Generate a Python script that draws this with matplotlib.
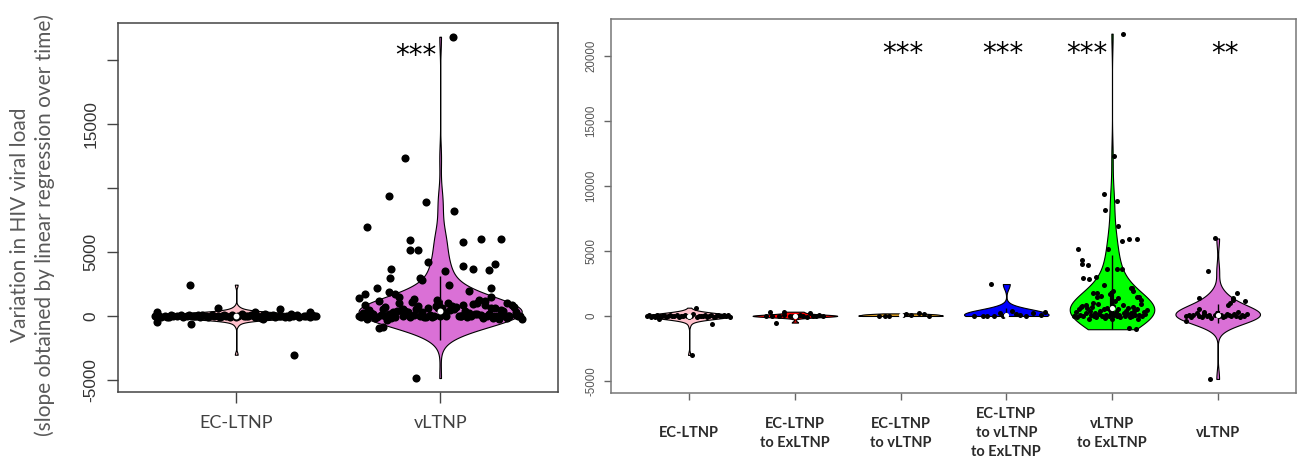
import numpy as np
import matplotlib.pyplot as plt

# ---- left panel: EC-LTNP vs vLTNP ----
left_cats = ["EC-LTNP", "vLTNP"]

ec_l_y = [2450, 650, -650, -470, -3020, 550, 340, 300, 330, -230,
          0, 40, -60, 20, -100, 80, 10, -30, 60, -80,
          0, 120, -20, 30, -50, 90, 0, -110, 50, -10,
          20, -70, 100, 0, -40, 70, -90, 10, 140, -20,
          0, 60, -60, 30, -120, 80, 0, -30, 110, -50,
          20, 0, -80, 40, 150, -10, 70, -100, 0, 30,
          -40, 90, 10, -60, 50, 0, -20, 130, -90, 20]
ec_l_jx = [-0.225, -0.09, -0.22, -0.39, 0.285, 0.215, 0.36, 0.09, -0.39, 0.13,
           -0.40, -0.38, -0.37, -0.35, -0.34, -0.32, -0.31, -0.29, -0.27, -0.26,
           -0.24, -0.23, -0.21, -0.20, -0.18, -0.17, -0.15, -0.14, -0.12, -0.11,
           -0.09, -0.08, -0.06, -0.05, -0.03, -0.02, 0.00, 0.01, 0.03, 0.04,
           0.06, 0.07, 0.09, 0.10, 0.12, 0.13, 0.15, 0.16, 0.18, 0.19,
           0.21, 0.22, 0.24, 0.25, 0.27, 0.28, 0.30, 0.31, 0.33, 0.34,
           0.36, 0.37, 0.39, -0.33, -0.19, -0.07, 0.05, 0.14, 0.26, 0.38]

vl_out_y = [21800, 12340, 9380, 8900, 8200, 6950, 5940, 5780, 6000, 6000,
            5160, 5160, 4220, 3670, 2970, 3900, 3670, 3590, 4060, 3520,
            2970, 2810, 2420, 2190, 1950, 2190, 1720, 1410, 1880, 1720,
            1480, 1480, 1330, 1250, 1020, -940, -860, -4840]
vl_out_jx = [0.065, -0.17, -0.25, -0.07, 0.07, -0.36, -0.15, 0.11, 0.20, 0.30,
             -0.15, -0.11, -0.06, -0.24, -0.245, 0.11, 0.16, 0.24, 0.27, 0.025,
             -0.10, -0.09, 0.045, 0.25, 0.14, -0.31, -0.37, -0.40, -0.25, -0.22,
             -0.20, 0.25, -0.13, -0.015, 0.33, -0.30, -0.28, -0.12]
vl_band_y = [0, 200, -100, 600, 50, 900, -50, 300, 0, 1100,
             150, -200, 700, 0, 400, -30, 1200, 100, 500, 0,
             -150, 800, 250, 0, 650, -80, 350, 1000, 0, 120,
             -250, 550, 0, 450, 80, -120, 750, 0, 300, 950,
             -60, 180, 600, 0, -300, 850, 220, 0, 500, 60,
             -180, 1150, 0, 380, 700, -40, 140, 900, 0, 280,
             -90, 520, 0, 420, 1050, -140, 30, 650, 0, 320,
             -220, 780, 0, 160, 580, -20, 450, 1250, 0, 90,
             -110, 620, 0, 260, 880, -70, 400, 720, 0, 190,
             -160, 540, 0, 340, 980]
vl_band_jx = [-0.40, 0.12, -0.31, 0.27, -0.05, 0.35, -0.22, 0.02, 0.39, -0.14,
              0.18, -0.36, 0.08, -0.27, 0.31, -0.10, 0.22, -0.38, 0.05, -0.18,
              0.33, -0.02, 0.14, -0.33, 0.25, -0.08, 0.37, -0.20, 0.10, -0.29,
              0.29, -0.12, 0.00, -0.35, 0.20, -0.24, 0.06, 0.34, -0.16, 0.16,
              -0.39, 0.24, -0.06, 0.38, -0.26, 0.11, -0.34, 0.03, 0.30, -0.13,
              0.21, -0.30, 0.09, -0.21, 0.36, -0.04, 0.17, -0.37, 0.26, -0.09,
              0.13, -0.28, 0.32, -0.17, 0.04, -0.32, 0.23, -0.01, 0.28, -0.23,
              0.40, -0.11, 0.15, -0.25, 0.07, 0.34, -0.19, 0.19, -0.03, 0.37,
              -0.15, 0.01, 0.29, -0.38, 0.22, -0.07, 0.12, -0.27, 0.33, -0.33,
              0.26, -0.18, 0.10, -0.36, 0.18]

# ---- right panel: six transition groups ----
right_cats = ["EC-LTNP", "EC-LTNP\nto ExLTNP", "EC-LTNP\nto vLTNP",
              "EC-LTNP\nto vLTNP\nto ExLTNP", "vLTNP\nto ExLTNP", "vLTNP"]

g1_y = [640, -640, -3000, -230, 0, 50, -40, 20, -80, 100,
        0, -20, 60, -60, 10, 80, -30, 0, 40, -100,
        20, -10, 90, 0, -50, 30, 120, -70, 10, 0,
        -20, 60, -40, 0, 70, -90, 20, 40, -10, 0,
        50, -30, 100, -60]
g1_jx = [0.06, 0.22, 0.03, -0.29, -0.40, -0.38, -0.36, -0.34, -0.32, -0.30,
         -0.28, -0.26, -0.24, -0.22, -0.20, -0.18, -0.16, -0.14, -0.12, -0.10,
         -0.08, -0.06, -0.04, -0.02, 0.00, 0.02, 0.04, 0.07, 0.09, 0.11,
         0.13, 0.15, 0.17, 0.19, 0.21, 0.23, 0.25, 0.27, 0.29, 0.31,
         0.33, 0.35, 0.37, 0.39]

g2_y = [330, 330, -510, 230, 0, 20, -30, 50, 0, -20, 10, 60, 0, -40, 30, 0, 80, -10]
g2_jx = [-0.24, -0.105, -0.18, 0.14, -0.27, -0.22, -0.15, -0.10, -0.05, -0.02,
         0.02, 0.05, 0.08, 0.11, 0.17, 0.20, 0.23, 0.27]

g3_y = [0, 10, 0, 100, 150, 80, 200, 120, 30]
g3_jx = [-0.20, -0.15, -0.11, 0.02, 0.05, 0.10, 0.17, 0.22, 0.27]

g4_y = [2460, 0, 20, 0, 250, 0, 400, 100, 0, 200, 50, 300, 10, 150]
g4_jx = [-0.14, -0.31, -0.22, -0.12, -0.06, -0.03, 0.05, 0.13, 0.19, 0.25,
         0.33, 0.37, -0.18, 0.09]

g5_y = [21740, 12300, 9380, 8840, 8150, 6920, 5740, 5950, 5920, 5180,
        5130, 4310, 4000, 3900, 2950, 2850, 3000, 3640, 3610, 3590,
        2360, 2150, 1790, 1790, 1540, 1440, 1360, 1440, -900, -1020,
        2130, 1490, 720, 850, 1000, 1900, 1250, 1700, 1950, 1150,
        0, 300, -100, 500, 100, 800, 0, 200, 600, -200,
        400, 50, 700, 0, 250, -50, 900, 150, 350, 0,
        550, -150, 100, 650, 0, 450, 200, -250, 750, 50,
        300, 0, 500, 100, -100, 850, 250, 0, 400, 150,
        600, -50, 200, 0, 700, 350, 100, 500, -200, 50,
        950, 0, 300, 150, 450]
g5_jx = [0.10, 0.02, -0.075, 0.045, -0.065, 0.057, 0.095, 0.16, 0.24, -0.32,
         -0.04, -0.285, -0.288, -0.23, -0.27, -0.215, -0.15, -0.045, 0.047, 0.09,
         -0.08, 0.19, -0.18, -0.14, -0.10, -0.145, 0.06, 0.26, 0.16, 0.23,
         0.18, 0.24, -0.295, -0.25, -0.18, 0.20, 0.27, -0.02, 0.005, 0.03,
         -0.36, -0.34, -0.33, -0.31, -0.30, -0.28, -0.27, -0.25, -0.24, -0.22,
         -0.21, -0.20, -0.19, -0.17, -0.16, -0.15, -0.13, -0.12, -0.11, -0.09,
         -0.08, -0.07, -0.06, -0.05, -0.03, -0.02, -0.01, 0.00, 0.01, 0.02,
         0.04, 0.05, 0.06, 0.07, 0.08, 0.10, 0.11, 0.12, 0.13, 0.14,
         0.15, 0.17, 0.18, 0.19, 0.20, 0.21, 0.22, 0.24, 0.25, 0.26,
         0.27, 0.28, 0.30, 0.31, 0.33]

g6_y = [5970, 3480, 1410, 1750, 1410, 1130, 1020, 850, 510, 330,
        -390, -4850, 1250,
        0, 100, -100, 50, 200, 0, -50, 150, 0, 100,
        -150, 50, 250, 0, 100, -80, 0, 180, 50, -20,
        120, 0, 300, -60, 80, 0, 150]
g6_jx = [-0.027, -0.096, -0.18, 0.185, 0.146, 0.26, 0.118, 0.10, -0.18, -0.125,
         -0.30, -0.074, 0.14,
         -0.30, -0.27, -0.25, -0.23, -0.20, -0.18, -0.15, -0.13, -0.10, -0.08,
         -0.06, -0.03, -0.01, 0.01, 0.03, 0.05, 0.07, 0.09, 0.11, 0.13,
         0.15, 0.17, 0.19, 0.21, 0.23, 0.25, 0.28]

left_colors = ["pink", "orchid"]
right_colors = ["pink", "red", "#e0a020", "blue", "#00ff00", "orchid"]

yticks = [-5000, 0, 5000, 10000, 15000, 20000]
left_ylabels = ["-5000", "0", "5000", "", "15000", ""]
ylim = (-5930, 22870)


def draw_violins(ax, datasets, jitters, colors, pt_size, box_lw, med_size):
    pos = np.arange(1, len(datasets) + 1)
    vp = ax.violinplot([np.asarray(d, float) for d in datasets], positions=pos,
                       widths=0.8, showextrema=False, points=3000)
    for body, c in zip(vp['bodies'], colors):
        body.set_facecolor(c)
        body.set_edgecolor('black')
        body.set_linewidth(0.8)
        body.set_alpha(1)
        body.set_zorder(2)
    for p, d, j in zip(pos, datasets, jitters):
        d = np.asarray(d, float)
        q1, med, q3 = np.percentile(d, [25, 50, 75])
        iqr = q3 - q1
        lo = max(d.min(), q1 - 1.5 * iqr)
        hi = min(d.max(), q3 + 1.5 * iqr)
        ax.vlines(p, lo, hi, color='black', lw=1, zorder=3)
        ax.vlines(p, q1, q3, color='black', lw=box_lw, zorder=3)
        ax.scatter(p + np.asarray(j), d, s=pt_size, color='black',
                   linewidths=0, zorder=5)
        ax.scatter([p], [med], s=med_size, color='white', linewidths=0, zorder=6)


fig = plt.figure(figsize=(12.98, 4.63), dpi=100)
axL = fig.add_axes([0.0909, 0.1533, 0.339, 0.797])
axR = fig.add_axes([0.4707, 0.1512, 0.5277, 0.8078])

draw_violins(axL, [ec_l_y, vl_out_y + vl_band_y], [ec_l_jx, vl_out_jx + vl_band_jx],
             left_colors, 34, 3.5, 18)
draw_violins(axR, [g1_y, g2_y, g3_y, g4_y, g5_y, g6_y],
             [g1_jx, g2_jx, g3_jx, g4_jx, g5_jx, g6_jx],
             right_colors, 13, 3, 14)

# left axes styling
axL.set_xlim(0.42, 2.578)
axL.set_ylim(*ylim)
axL.set_xticks([1, 2], left_cats, fontsize=13, family='Lato', color='#404040')
axL.set_yticks(yticks, left_ylabels, fontsize=12.4, family='Liberation Sans', color='#333333')
axL.tick_params(axis='x', length=8, width=1, pad=14, color='#444444')
axL.tick_params(axis='y', length=8, width=1, pad=6, color='#444444')
for lbl in axL.get_yticklabels():
    lbl.set_rotation(90)
    lbl.set_va('center')
for t in axL.xaxis.get_major_ticks():
    t.label1.set_va('center')
for s in axL.spines.values():
    s.set_color('#444444')
    s.set_linewidth(1.1)

# right axes styling
axR.set_xlim(0.26, 6.74)
axR.set_ylim(*ylim)
axR.set_xticks(np.arange(1, 7), right_cats, fontsize=10.5, family='Lato',
               fontweight='bold', color='#2a2a2a', linespacing=1.45)
axR.set_yticks(yticks, [str(v) for v in yticks], fontsize=8.3,
               family='Liberation Sans', color='#555555')
axR.tick_params(axis='x', length=5, width=1, pad=24, color='#666666')
axR.tick_params(axis='y', length=5, width=1, pad=5, color='#666666')
for lbl in axR.get_yticklabels():
    lbl.set_rotation(90)
    lbl.set_va('center')
for t in axR.xaxis.get_major_ticks():
    t.label1.set_va('center')
for s in axR.spines.values():
    s.set_color('#777777')
    s.set_linewidth(1.1)

# significance stars
axL.text(1.88, 20300, '***', ha='center', va='center', fontsize=20)
for x, s in zip([3.02, 3.97, 4.76, 6.07], ['***', '***', '***', '**']):
    axR.text(x, 20200, s, ha='center', va='center', fontsize=20)

fig.text(0.025, 0.514, "Variation in HIV viral load\n(slope obtained by linear regression over time)",
         rotation=90, ha='center', va='center', fontsize=15, family='Lato',
         color='#595959', linespacing=1.3)

fig.savefig('out.png', dpi=100)
